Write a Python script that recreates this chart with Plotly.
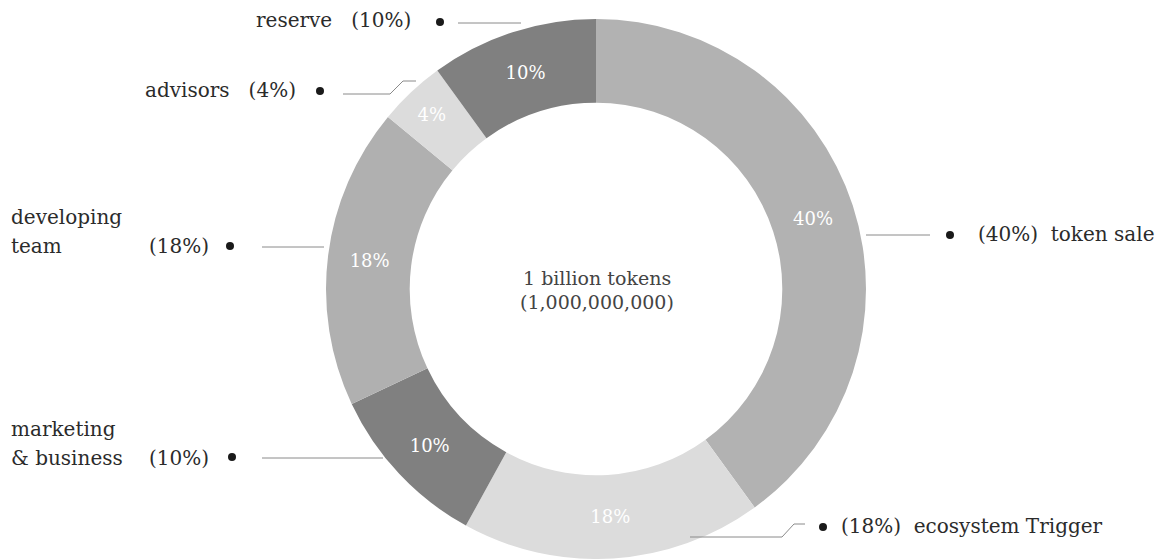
import plotly.graph_objects as go

# ---- data ----
categories = ["token sale", "ecosystem Trigger", "marketing & business",
              "developing team", "advisors", "reserve"]
shares = [40, 18, 10, 18, 4, 10]
slice_colors = ["#b2b2b2", "#dcdcdc", "#808080", "#b0b0b0", "#dcdcdc", "#808080"]
center_lines = ["1 billion tokens", "(1,000,000,000)"]

W, H = 1165, 559
FONT = "DejaVu Serif"
TXT = "#2b2b2b"
LINE = "#8a8a8a"

def px(x):
    return x / W

def py(y):
    return 1 - y / H

cx, cy, R = 596, 289, 270

fig = go.Figure(go.Pie(
    labels=categories,
    values=shares,
    sort=False,
    direction="clockwise",
    rotation=0,
    hole=0.69,
    marker=dict(colors=slice_colors, line=dict(width=0)),
    texttemplate="%{value}%",
    textposition="inside",
    insidetextorientation="horizontal",
    insidetextfont=dict(family=FONT, size=18, color="#ffffff"),
    showlegend=False,
    domain=dict(x=[px(cx - R), px(cx + R)], y=[py(cy + R), py(cy - R)]),
))

annotations = []
shapes = []

def text(x, y, s, anchor, size=20, color=TXT):
    annotations.append(dict(x=px(x), y=py(y), xref="paper", yref="paper", text=s,
                            showarrow=False, xanchor=anchor, yanchor="middle", align="left",
                            font=dict(family=FONT, size=size, color=color)))

def dot(x, y, r=4):
    shapes.append(dict(type="circle", xref="paper", yref="paper",
                       x0=px(x - r), x1=px(x + r), y0=py(y + r), y1=py(y - r),
                       fillcolor="#1a1a1a", line=dict(width=0)))

def poly(pts):
    d = "M " + " L ".join(f"{px(x)},{py(y)}" for x, y in pts)
    shapes.append(dict(type="path", xref="paper", yref="paper", path=d,
                       line=dict(color=LINE, width=1)))

pct = {c: s for c, s in zip(categories, shares)}
NB = "\u00a0"

# reserve
text(413, 20, f"reserve{NB}{NB}{NB}({pct['reserve']}%)", "right")
dot(440, 22)
poly([(458, 23), (521, 23)])
# advisors
text(298, 90, f"advisors{NB}{NB}{NB}({pct['advisors']}%)", "right")
dot(320, 91)
poly([(343, 94), (390, 94), (403, 81), (416, 81)])
# developing team
text(9, 217, "developing", "left")
text(9, 246, "team", "left")
text(211, 246, f"({pct['developing team']}%)", "right")
dot(230, 246)
poly([(262, 247), (324, 247)])
# marketing & business
text(9, 429, "marketing", "left")
text(9, 458, "& business", "left")
text(211, 458, f"({pct['marketing & business']}%)", "right")
dot(232, 457)
poly([(262, 458), (383, 458)])
# token sale
poly([(866, 235), (930, 235)])
dot(950, 235)
text(976, 234, f"({pct['token sale']}%){NB}{NB}token sale", "left")
# ecosystem
poly([(690, 537), (782, 537), (794, 524), (805, 524)])
dot(823, 527)
text(839, 526, f"({pct['ecosystem Trigger']}%){NB}{NB}ecosystem Trigger", "left")

# centre
text(597, 278, center_lines[0], "center", size=19, color="#444444")
text(597, 302, center_lines[1], "center", size=19, color="#444444")

fig.update_layout(
    width=W, height=H,
    margin=dict(l=0, r=0, t=0, b=0),
    paper_bgcolor="white", plot_bgcolor="white",
    annotations=annotations, shapes=shapes,
)
fig.write_html("out.html")
